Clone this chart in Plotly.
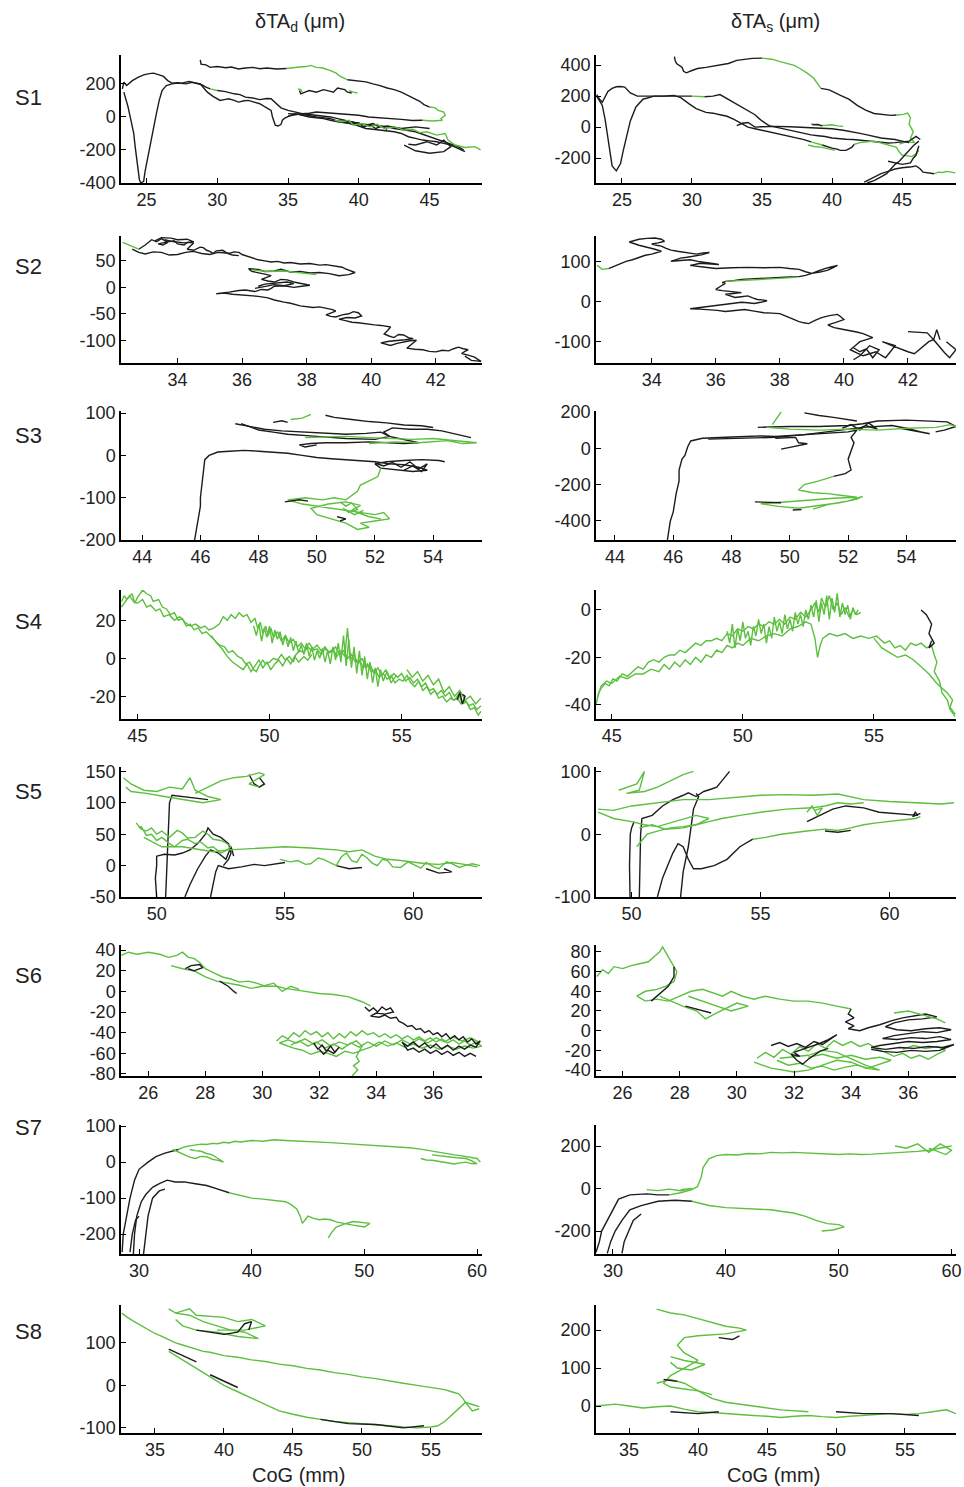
import plotly.graph_objects as go

BLACK = "#1c1c1c"
GREEN = "#5cbf3e"
COLORS = {"k": BLACK, "g": GREEN}

# ---------------- data: strokes per panel (color, [(CoG mm, dTA um), ...]) ----------------
S1_D = [
    ("k", [(28.8,345),(28.85,320),(29.2,315),(29.5,300),(30,305),(30.6,298),(31,302),(31.5,290),(32,296),(32.5,300),(33,292),(33.5,296),(34.2,290),(34.9,293)]),
    ("g", [(34.9,293),(35.5,296),(35.8,302),(36.3,305),(36.6,312),(37.0,300),(37.4,298),(38,280),(38.4,265),(38.6,250),(39.0,235),(39.2,225)]),
    ("k", [(39.2,225),(39.6,222),(40,220),(40.5,212),(41,200),(41.5,190),(42,175),(42.5,165),(43,150),(43.5,130),(44,110),(44.3,95),(44.6,75),(45,60)]),
    ("g", [(45,60),(45.4,55),(45.6,40),(46,30),(46.1,10),(45.8,-10),(45.9,-20),(45.2,-25),(44.5,-20)]),
    ("k", [(44.5,-20),(43.8,-22),(43,-15),(42.2,-10),(41.5,-5),(40.7,0),(40,10),(39.2,15),(38.5,20),(37.8,25),(37,30),(36.5,22),(36,20),(35.3,10),(35,5)]),
    ("k", [(23.3,170),(23.4,210),(23.6,190),(24,220),(24.4,240),(24.8,255),(25.2,262),(25.5,265),(25.9,255),(26.2,245),(26.5,220),(26.8,205),(27.2,208),(27.5,205),(28,215),(28.4,205),(28.9,195),(29.2,180),(29.5,170)]),
    ("g", [(29.5,170),(30.0,160)]),
    ("k", [(30,160),(30.5,155),(31.2,140),(31.6,135),(32,120),(32.5,115),(33,105),(33.5,112),(33.8,110),(34.2,80),(34.5,55),(35,40),(35.5,30),(36,20),(36.5,15),(37,10),(37.5,5),(38,0),(38.5,-10),(39,-20),(39.5,-28),(40,-40),(40.5,-45),(41,-50),(41.5,-55),(42,-60),(42.5,-70),(43,-75),(43.5,-82),(44,-90),(44.5,-105),(45,-120),(45.5,-135),(46,-150),(46.5,-165),(47,-180),(47.4,-200)]),
    ("k", [(23.4,150),(23.5,120),(23.6,100),(23.7,60),(23.8,20),(23.95,-40),(24.1,-100),(24.2,-180),(24.3,-250),(24.4,-320),(24.5,-380),(24.6,-400),(24.8,-390),(24.9,-330),(25.05,-260),(25.2,-200),(25.35,-130),(25.5,-60),(25.7,20),(25.9,100),(26.1,160),(26.4,190),(26.8,200),(27.2,205),(27.8,200),(28.2,210),(28.5,205),(28.8,200),(29.0,180),(29.3,150),(29.7,125),(30.2,100),(30.5,105),(30.8,110),(31.2,100),(31.5,90),(31.9,98),(32.2,100),(32.6,90),(33,80),(33.4,60),(33.8,40),(33.9,0),(34.1,-50),(34.3,-55),(34.5,-45),(34.6,-20),(34.8,-5),(35.2,10),(35.5,20),(36,10),(36.5,0),(37,-5),(37.5,-10),(38,-20),(38.5,-30),(39,-35),(39.5,-40),(40,-55),(40.5,-70),(41,-75),(41.5,-80),(42,-85),(42.5,-90),(43,-100),(43.5,-120),(44,-130),(44.5,-140),(45,-145),(45.5,-150),(46,-160),(46.5,-170),(47,-190),(47.5,-210)]),
    ("k", [(35.8,160),(35.9,140),(36.2,150),(36.5,160),(37,150),(37.5,165),(38,155),(38.2,150),(38.5,175),(39,165),(39.2,150),(39.5,145)]),
    ("g", [(35.7,170),(35.9,165),(36.0,150)]),
    ("g", [(39.3,160),(39.6,150),(39.9,145)]),
    ("k", [(35,20),(36,15),(37,0),(38,-10),(38.5,-25),(39.5,-30),(40.5,-50),(41,-40),(41.5,-60),(42,-55),(43,-70),(44,-60),(45,-70)]),
    ("k", [(39,-30),(39.5,-45),(40,-35),(40.3,-60),(40.8,-50),(41.2,-70),(41.6,-55),(42,-75)]),
    ("g", [(38.3,-20),(38.8,-30),(39.3,-20),(39.6,-50),(40.2,-40),(40.8,-60),(41.3,-45),(41.8,-70),(42.5,-60),(43.2,-80),(43.8,-75),(44.3,-95),(44.8,-90),(45.5,-110),(46.1,-100),(46.3,-140),(46.8,-170),(47.5,-185),(48.2,-180),(48.6,-200)]),
    ("k", [(43.5,-165),(44,-170),(44.8,-150),(45.5,-170),(46,-140),(46.5,-180),(46,-210),(45,-220),(44,-205),(43.2,-170)]),
]

S1_S = [
    ("k", [(28.75,455),(28.8,430),(28.9,410),(29.1,400),(29.3,385),(29.4,360),(29.6,350),(30.0,365),(30.4,378),(31,385),(31.5,392),(32,400),(32.6,410),(33.2,430),(33.8,438),(34.3,443),(35,445)]),
    ("g", [(35,445),(35.7,438),(36.3,422),(36.8,410),(37.3,398),(37.7,378),(38.2,350),(38.7,315),(39.2,250)]),
    ("k", [(39.2,250),(39.8,240),(40.6,205),(41.2,180),(41.8,140),(42.4,110),(43,88),(43.6,80),(44.2,76),(44.6,78)]),
    ("g", [(44.6,78),(45.1,82),(45.4,90),(45.6,60),(45.5,20),(45.8,-30),(45.6,-70),(45.9,-100),(45.3,-95),(44.8,-110)]),
    ("k", [(23.2,200),(23.4,170),(23.6,140),(23.8,50),(23.95,-50),(24.1,-150),(24.3,-250),(24.6,-282),(24.9,-235),(25.1,-150),(25.3,-80),(25.6,40),(26,130),(26.5,180),(27.3,200),(28,200),(28.7,205),(29.2,190),(29.8,150),(30.3,120),(31,95),(31.5,90),(32,80),(32.5,70),(33,50),(33.4,30),(33.7,20),(34,0),(34.5,-10),(35,-20),(35.5,-30),(36,-40),(36.5,-50),(37,-60),(37.5,-70),(38,-80),(38.5,-95)]),
    ("g", [(38.5,-95),(38.9,-105),(39.3,-115)]),
    ("k", [(39.3,-115),(39.6,-125),(40,-135),(40.3,-140),(40.6,-150),(41,-150),(41.4,-130),(41.6,-110)]),
    ("k", [(23.2,210),(23.4,180),(23.6,160),(23.8,200),(24,230),(24.3,250),(24.6,260),(24.9,262),(25.2,258),(25.6,220),(26.1,200),(27,200),(28,200),(29,200),(30,200)]),
    ("g", [(30,200),(30.5,198),(30.9,196)]),
    ("k", [(30.9,196),(31.5,200),(32,210),(32.2,200),(32.5,185),(32.8,170),(33.2,150),(33.6,130),(34,110),(34.3,90),(34.5,80),(34.8,55),(35,40),(35.5,10),(36,0),(36.5,-10),(37,-20),(37.5,-30),(38,-40),(38.5,-50),(39,-55),(39.5,-60),(40,-70),(40.5,-75),(41,-78),(41.5,-80),(42,-85),(42.5,-90),(43,-95),(43.5,-100),(44,-102),(44.5,-100),(45,-95),(45.5,-90),(46,-60),(46.3,-80)]),
    ("k", [(33.2,10),(33.6,25),(34,30),(34.3,10),(34.5,0),(35,3),(35.5,6),(36,5),(37,3),(38,0),(39,-5),(40,-10),(40.8,-20),(41.5,-30),(42,-40),(42.5,-50),(43,-60),(43.5,-70),(44,-75),(44.5,-80),(45,-90),(45.5,-100)]),
    ("g", [(38.5,20),(38.8,15),(39.2,10),(39.6,12),(40,15),(40.4,8),(40.8,5)]),
    ("k", [(38.6,15),(39,18),(39.3,8)]),
    ("g", [(38.3,-115),(38.7,-125),(39.3,-130),(39.8,-140),(40.2,-150)]),
    ("g", [(41.6,-110),(42,-100),(42.5,-95),(43,-90),(43.4,-100),(43.8,-110),(44.2,-120),(44.6,-130),(44.8,-160),(45,-180),(45.4,-185),(45.7,-190),(46,-170),(46.2,-150)]),
    ("k", [(42.3,-355),(42.6,-340),(42.8,-330),(43.2,-315),(43.5,-300),(44,-285),(44.5,-270),(45,-262),(45.3,-260),(45.7,-255),(46,-250),(46.3,-270),(46.5,-290),(46.9,-295),(47.3,-300)]),
    ("g", [(47.3,-300),(47.6,-290),(47.9,-292),(48.2,-285),(48.5,-290),(48.8,-295)]),
    ("k", [(42.5,-360),(43,-345),(43.5,-320),(43.9,-300),(44.2,-270),(44.5,-240),(44.8,-220),(45,-200),(45.4,-160),(45.8,-120),(46.2,-90)]),
    ("k", [(44,-220),(44.5,-230),(45,-240),(45.6,-230),(45.8,-200),(46,-180),(46.2,-120)]),
]

S2_D = [
    ("k", [(32.8,72),(33.0,80),(33.2,90),(33.35,86),(33.5,92),(33.6,88),(33.7,85),(33.55,80),(33.4,82),(33.7,86),(33.9,88),(34.0,82),(34.2,80),(34.3,85),(34.5,84),(34.4,78),(34.3,72),(34.5,70),(34.7,76),(34.8,75),(34.9,70),(35.0,68),(35.1,64),(35.2,69),(35.4,70),(35.5,66),(35.6,64),(35.75,67),(35.9,66),(36.0,62),(36.2,58),(36.35,55),(36.5,52),(36.7,50),(36.9,48),(37.1,49),(37.3,46),(37.5,47),(37.8,44),(38.1,45),(38.4,42),(38.6,43),(38.9,40),(39.1,38),(39.2,35),(39.35,32),(39.5,28),(39.3,24),(39.0,22),(38.7,26),(38.4,28),(38.1,27),(37.8,30),(37.5,29),(37.2,34),(37.0,31),(36.7,30),(36.5,34),(36.2,35),(36.3,30),(36.5,28),(36.7,25),(36.9,22),(36.75,18),(36.6,15),(36.8,12),(37.0,10),(37.2,15),(37.4,14),(37.6,10),(37.8,8),(37.95,6),(38.1,4),(37.85,2),(37.6,0),(37.3,3),(37.0,2),(36.9,-2),(36.8,-5),(36.6,-4),(36.4,-8),(36.1,-5),(35.9,-6),(35.6,-9),(35.4,-10),(35.2,-12),(35.45,-11),(35.7,-13),(35.95,-14),(36.2,-16),(36.5,-17),(36.8,-20),(37.0,-24),(37.3,-28),(37.5,-30),(37.8,-35),(38.0,-36),(38.2,-38),(38.4,-37),(38.6,-40),(38.8,-42),(38.9,-45),(38.7,-49),(38.6,-52),(38.75,-55),(38.9,-56),(39.1,-52),(39.3,-50),(39.45,-46),(39.6,-48),(39.7,-54),(39.5,-58),(39.25,-57),(39.0,-60),(39.2,-63),(39.4,-66),(39.6,-67),(39.9,-70),(40.1,-71),(40.3,-72),(40.45,-74),(40.6,-75),(40.5,-82),(40.4,-88),(40.55,-92),(40.7,-95),(40.85,-89),(41.0,-90),(41.15,-95),(41.3,-97),(41.05,-99),(40.8,-100),(40.55,-102),(40.3,-105),(40.45,-108),(40.6,-110),(40.8,-106),(41.0,-103),(41.2,-101),(41.4,-100),(41.25,-108),(41.1,-115),(41.35,-117),(41.6,-118),(41.8,-121),(42.0,-122),(42.2,-119),(42.4,-120),(42.55,-116),(42.7,-113),(42.85,-116),(43.0,-118),(42.9,-121),(42.8,-125),(43.0,-128),(43.2,-132),(43.3,-136),(43.4,-140),(43.25,-139),(43.1,-138),(42.9,-130)]),
    ("k", [(32.6,72),(32.8,66),(33.0,63),(33.25,67),(33.5,66),(33.75,61),(34,62),(34.25,66),(34.5,68),(34.75,64),(35,62),(35.25,66),(35.5,65),(35.7,61),(35.9,60)]),
    ("k", [(33.3,88),(33.5,94),(33.8,93),(34.0,90),(34.3,91),(34.5,86),(34.2,84),(33.9,86),(33.6,90)]),
    ("k", [(36.4,-2),(36.7,2),(37.0,5),(37.3,3),(37.6,7),(37.4,10),(37.0,8),(36.7,6),(36.5,2)]),
    ("g", [(32.3,85),(32.5,80),(32.8,72)]),
    ("g", [(36.3,33),(36.8,30),(37.3,31),(37.8,28),(38.3,24)]),
]

S2_S = [
    ("k", [(32.65,82),(32.9,90),(33.2,100),(33.4,104),(33.6,110),(33.8,115),(34.0,118),(34.2,122),(34.3,125),(34.1,130),(33.8,135),(33.6,140),(33.3,148),(33.45,152),(33.6,155),(33.85,157),(34.1,158),(34.3,155),(34.4,150),(34.2,146),(34.0,143),(34.15,140),(34.3,138),(34.45,132),(34.6,128),(34.8,125),(35.0,123),(35.2,120),(35.4,118),(35.6,121),(35.8,122),(35.55,116),(35.3,112),(35.1,110),(34.9,108),(34.75,104),(34.6,100),(34.9,102),(35.2,104),(35.45,100),(35.7,98),(35.9,95),(36.1,92),(35.8,93),(35.5,95),(35.35,92),(35.2,90),(35.6,86),(36,82),(36.5,84),(37,85),(37.5,84),(38,85),(38.3,82),(38.6,80),(38.8,74),(39.0,70),(39.2,76),(39.4,82),(39.6,86),(39.8,90),(39.65,84),(39.5,78),(39.25,73),(39.0,70),(38.8,65),(38.6,62),(38.3,61),(38.0,60),(37.7,59),(37.4,58),(37.1,56),(36.8,55),(36.55,52),(36.3,50),(36.2,47),(36.3,45),(36.15,38),(36.0,30),(36.2,27),(36.4,25),(36.6,24),(36.8,22),(36.55,20),(36.3,18),(36.45,14),(36.6,10),(36.8,12),(37,14),(37.15,9),(37.3,5),(37.45,4),(37.6,2),(37.4,-2),(37.2,-5),(37.0,-3),(36.8,-2),(36.5,-5),(36.2,-8),(35.9,-12),(35.6,-15),(35.4,-17),(35.2,-18),(35.5,-19),(35.8,-20),(36.05,-22),(36.3,-25),(36.6,-22),(36.9,-20),(37.2,-24),(37.5,-28),(37.75,-29),(38,-30),(38.15,-35),(38.3,-40),(38.45,-46),(38.6,-50),(38.75,-53),(38.9,-55),(39.1,-47),(39.3,-40),(39.55,-35),(39.8,-32),(39.9,-38),(40.0,-45),(39.75,-52),(39.5,-58),(39.6,-62),(39.7,-65),(39.95,-69),(40.2,-72),(40.4,-76),(40.6,-80),(40.75,-85),(40.9,-90),(40.7,-95),(40.5,-100),(40.35,-110),(40.2,-120),(40.4,-128),(40.6,-135),(40.8,-130),(41.0,-125),(41.15,-133),(41.3,-140),(41.45,-125),(41.6,-110),(41.4,-105),(41.2,-100),(41.5,-110),(41.8,-120),(42.0,-125),(42.2,-130),(42.35,-120),(42.5,-110),(42.65,-100),(42.8,-95),(42.9,-105),(43.0,-115),(43.15,-128),(43.3,-140),(43.4,-130),(43.5,-120),(43.35,-110),(43.2,-100)]),
    ("k", [(42.0,-75),(42.3,-76),(42.6,-78),(42.8,-95),(42.9,-70),(43.0,-95)]),
    ("k", [(40.3,-115),(40.5,-125),(40.7,-118),(40.9,-140),(41.1,-120),(40.8,-110),(40.5,-135),(40.3,-145)]),
    ("g", [(32.3,90),(32.45,80),(32.65,82)]),
    ("g", [(36.3,50),(36.8,52),(37.3,54),(37.8,56),(38.5,60)]),
]

S3_D = [
    ("k", [(45.8,-200),(45.85,-180),(45.9,-150),(46.0,-120),(46.0,-100),(46.05,-70),(46.1,-40),(46.15,-10),(46.3,0),(46.6,8),(47.0,10),(47.5,12),(48,10),(48.5,8),(49,5),(49.5,0),(50,-5),(50.5,-8),(51,-10),(51.5,-12),(52,-15),(52.5,-20),(53,-22),(53.5,-28),(53.8,-35),(53.3,-38),(52.8,-35),(52.2,-30),(52.0,-20),(52.4,-15),(53,-12),(53.6,-10),(54.2,-12),(54.4,-15)]),
    ("k", [(52.0,-18),(52.3,-25),(52.6,-17),(52.9,-28),(53.2,-15),(53.5,-32),(53.8,-20),(53.6,-38),(53.3,-25),(53.0,-35)]),
    ("k", [(47.2,75),(47.6,70),(48.2,62),(48.8,58),(49.5,55),(50.2,52),(51,50),(51.7,52),(52.2,55),(52.5,45),(52.8,40),(53.2,35),(53.5,30),(53.0,28),(52.4,30),(51.8,32),(51.0,30),(50.3,30),(49.8,28),(49.4,25),(49.6,20),(50.0,25)]),
    ("k", [(47.4,75),(48.0,60),(48.5,55),(49,50),(50,45),(51,40),(52,38),(52.5,45),(52.3,55),(52.6,65),(53.2,62),(53.8,62),(54.3,58),(54.8,50),(55.2,45),(55.3,42)]),
    ("k", [(50.3,95),(50.6,90),(51.2,85),(51.8,80),(52.4,77),(53.0,72),(53.6,70),(54.0,66)]),
    ("k", [(48.5,78),(48.8,82),(49.0,78)]),
    ("g", [(49.1,85),(49.5,88),(49.8,97)]),
    ("g", [(49.6,42),(50.5,45),(51.0,45),(51.8,42),(52.5,40),(53.3,38),(54.0,40),(54.8,35),(55.5,30),(55.0,28),(54.5,35),(53.5,30),(52.7,32),(51.8,28)]),
    ("g", [(52.2,-30),(52.1,-50),(51.8,-60),(51.5,-70),(51.4,-85),(51.2,-95),(51.0,-105),(50.6,-100),(50.2,-105),(49.6,-100),(49.0,-105),(49.5,-115),(50,-120),(50.5,-125),(51.0,-130),(51.5,-135),(52.0,-140),(52.3,-135),(52.5,-150),(52.0,-155),(51.5,-160),(51.8,-170),(51.4,-175),(51.0,-160),(50.5,-150),(50.0,-140),(49.8,-125),(50.4,-115),(51.0,-110),(51.5,-118),(51.2,-130),(51.8,-145),(52.2,-150)]),
    ("g", [(50.8,-110),(51.0,-120),(51.2,-112),(51.4,-128),(51.1,-135),(50.9,-125),(51.3,-140),(51.6,-130)]),
    ("k", [(48.9,-110),(49.4,-105),(49.7,-108)]),
    ("k", [(50.7,-145),(51.0,-150),(50.8,-155)]),
]

S3_S = [
    ("k", [(45.8,-505),(45.85,-450),(45.9,-400),(46.0,-350),(46.05,-300),(46.1,-250),(46.2,-180),(46.2,-120),(46.3,-60),(46.4,-40),(46.5,10),(46.6,40),(47,55),(47.5,60),(48,62),(48.5,65),(49,68),(49.5,65),(50,70),(50.5,75),(51,80),(51.5,85),(52,90),(52.3,100),(52.1,60),(52.2,30),(52.1,-20),(52.0,-60),(52.1,-120),(51.9,-140),(51.5,-155)]),
    ("g", [(51.5,-155),(51,-180),(50.5,-200),(50.3,-230),(50.8,-245),(51.3,-250),(51.8,-260),(52.3,-270),(51.5,-275),(50.8,-285),(50.2,-290),(49.5,-300),(49.0,-305),(49.6,-320),(50.3,-330),(51,-315),(51.7,-300),(52.3,-280),(52.5,-265),(52,-290),(51.3,-310),(50.8,-335)]),
    ("k", [(48.8,-295),(49.3,-300),(49.7,-300)]),
    ("k", [(50.1,-340),(50.4,-338)]),
    ("k", [(47.2,50),(48.5,55),(49.5,60),(50.5,75),(51.5,95),(52.5,115),(53.5,125),(54,110),(54.5,90),(54.8,80),(54.3,95),(53.8,110)]),
    ("k", [(48.9,115),(49.3,118),(50,120),(51,120),(52,125),(52.5,135),(53,150),(54,155),(55,150),(55.4,145),(55.7,120),(55.3,100),(55,90)]),
    ("k", [(50.5,195),(51,180),(51.5,170),(52.0,155),(52.3,150)]),
    ("k", [(49.5,55),(50.2,60),(50.3,30),(50.6,25),(50,5),(49.7,-5)]),
    ("k", [(51.8,110),(52.1,130),(52.4,100),(52.7,140),(53.0,105),(52.6,125),(52.2,95)]),
    ("g", [(49.4,130),(49.6,180),(49.7,200)]),
    ("g", [(49.2,115),(50,105),(51,100),(52,105),(53,100),(54,110),(55,115),(55.5,130),(55.8,115)]),
]

S4_D = [
    ("g", [(44.4,30),(44.5,33),(44.6,31),(44.8,34),(44.9,29),(45.0,32),(45.2,36),(45.35,34),(45.5,33),(45.6,30),(45.8,31),(45.95,27),(46.1,26),(46.25,23),(46.4,24),(46.55,20),(46.7,21),(46.85,17),(47.0,18),(47.15,15),(47.3,16),(47.45,13),(47.6,14),(47.8,11),(47.95,9),(48.1,7),(48.3,6),(48.45,3),(48.6,4),(48.8,1),(48.95,0),(49.1,-3),(49.25,-2),(49.4,-6),(49.5,-7),(49.6,-4),(49.75,-1),(49.85,-3),(50.0,-2),(50.15,0),(50.3,-1),(50.45,2),(50.6,-1),(50.75,1),(50.9,-2),(51.0,2),(51.15,4),(51.3,3),(51.45,6),(51.6,4),(51.8,5),(51.95,2),(52.1,5),(52.3,3),(52.5,6),(52.65,2),(52.8,4),(52.95,0),(53.1,2),(53.25,-2),(53.4,-1),(53.55,-5),(53.7,-3),(53.85,-7),(54.0,-6),(54.15,-10),(54.3,-8),(54.45,-11),(54.6,-9),(54.75,-13),(54.9,-11),(55.05,-12),(55.2,-9),(55.35,-13),(55.5,-15),(55.65,-12),(55.8,-17),(55.95,-15),(56.1,-19),(56.25,-17),(56.4,-21),(56.55,-20),(56.7,-23),(56.85,-21),(57.0,-22),(57.15,-19),(57.3,-24),(57.45,-23),(57.6,-27),(57.75,-26),(57.9,-30),(58.0,-28)]),
    ("g", [(44.4,27),(44.55,30),(44.7,33),(44.85,30),(45.0,29),(45.2,31),(45.35,27),(45.5,28),(45.7,25),(45.85,26),(46.0,22),(46.2,23),(46.4,20),(46.6,22),(46.8,19),(47.0,17),(47.2,18),(47.4,16),(47.55,17),(47.7,15),(47.9,16),(48.1,18),(48.25,22),(48.4,20),(48.55,23),(48.7,21),(48.85,24),(49.0,22),(49.15,23),(49.3,19),(49.45,21),(49.55,16),(49.65,19),(49.75,13),(49.85,17),(49.95,12),(50.05,16),(50.15,11),(50.3,14),(50.45,9),(50.6,12),(50.75,8),(50.9,10),(51.05,6),(51.2,8),(51.35,5),(51.5,8),(51.65,5),(51.8,7),(51.95,4),(52.1,6),(52.25,3),(52.4,5),(52.55,1),(52.7,4),(52.85,1),(52.95,16),(53.05,-1),(53.2,2),(53.35,-3),(53.5,0),(53.65,-5),(53.8,-3),(53.95,-8),(54.1,-5),(54.25,-9),(54.4,-6),(54.55,-11),(54.7,-8),(54.85,-10),(55.0,-8),(55.15,-12),(55.3,-10),(55.45,-13),(55.6,-11),(55.75,-15),(55.9,-13),(56.05,-17),(56.2,-16),(56.35,-19),(56.5,-17),(56.65,-20),(56.8,-18),(56.95,-22),(57.1,-21),(57.25,-24),(57.4,-22),(57.55,-25),(57.7,-24),(57.85,-27),(58.0,-25)]),
    ("g", [(49.4,17),(49.5,12),(49.6,18),(49.7,9),(49.8,16),(49.9,11),(50.0,17),(50.1,8),(50.2,15),(50.3,10),(50.4,14),(50.5,7),(50.6,12),(50.7,6),(50.8,11),(50.9,4),(51.0,9),(51.1,3),(51.2,7),(51.3,2),(51.4,8),(51.5,1),(51.6,6),(51.7,-1),(51.8,4),(51.9,0),(52.0,5),(52.1,-2),(52.2,4),(52.3,-3),(52.4,6),(52.5,-1),(52.6,8),(52.7,-2),(52.8,12),(52.9,-4),(53.0,10),(53.1,-5),(53.2,6),(53.3,-8),(53.4,4),(53.5,-9),(53.6,1),(53.7,-11),(53.8,-2),(53.9,-13),(54.0,-5),(54.1,-15),(54.2,-6),(54.3,-12),(54.45,-7),(54.6,-13),(54.8,-9)]),
    ("g", [(47.8,12),(48.0,8),(48.2,5),(48.4,1),(48.6,-2),(48.8,-4),(49.0,-6),(49.15,-3),(49.3,-7),(49.45,-4),(49.6,-1),(49.75,-5),(49.9,-2),(50.05,-6),(50.2,-3),(50.35,-1),(50.5,-4),(50.65,0),(50.8,-3),(50.95,1),(51.1,-2),(51.3,1),(51.45,-1),(51.6,2)]),
    ("g", [(55.2,-6),(55.4,-10),(55.6,-7),(55.8,-12),(56.0,-9),(56.2,-14),(56.4,-11),(56.6,-18),(56.8,-15),(57.0,-20),(57.2,-17),(57.4,-22),(57.6,-20),(57.8,-24),(58.0,-21)]),
    ("k", [(57.1,-22),(57.2,-18),(57.3,-24),(57.4,-20),(57.3,-19)]),
]

S4_S = [
    ("g", [(44.4,-40),(44.5,-35),(44.6,-33),(44.75,-31),(44.9,-32),(45.05,-29),(45.2,-30),(45.4,-27),(45.6,-28),(45.8,-26),(46.0,-24),(46.2,-25),(46.4,-22),(46.6,-21),(46.8,-22),(47.0,-20),(47.2,-19),(47.4,-19),(47.6,-17),(47.8,-18),(48.0,-16),(48.2,-14),(48.4,-15),(48.6,-13),(48.8,-13),(49.0,-12),(49.2,-13),(49.4,-10),(49.6,-11),(49.8,-8),(50.0,-9),(50.2,-7),(50.4,-8),(50.6,-6),(50.8,-7),(51.0,-5),(51.2,-6),(51.4,-4),(51.6,-6),(51.8,-3),(52.0,-4),(52.2,-1),(52.4,-3),(52.6,0),(52.75,3),(52.9,-1),(53.0,5),(53.15,1),(53.3,6),(53.45,0),(53.6,3),(53.75,-2),(53.9,1),(54.05,-3),(54.2,0),(54.35,-2),(54.5,-1)]),
    ("g", [(44.45,-37),(44.6,-32),(44.8,-30),(45.0,-31),(45.3,-28),(45.6,-29),(45.9,-27),(46.2,-27),(46.5,-25),(46.8,-26),(47.0,-23),(47.2,-25),(47.4,-22),(47.6,-24),(47.8,-21),(48.0,-23),(48.2,-20),(48.4,-22),(48.6,-19),(48.8,-20),(49.0,-17),(49.2,-18),(49.4,-15),(49.6,-16),(49.8,-14),(50.0,-15),(50.3,-12),(50.6,-13),(50.9,-11),(51.2,-10),(51.5,-11),(51.8,-8),(52.1,-7),(52.4,-5),(52.6,-6),(52.75,-12),(52.85,-20),(52.95,-15),(53.05,-12),(53.3,-10),(53.6,-11),(53.9,-10),(54.2,-12),(54.5,-11),(54.8,-12),(55.1,-11),(55.4,-14),(55.6,-13),(55.8,-16),(56.0,-15),(56.2,-17),(56.4,-14),(56.6,-15),(56.8,-14),(57.0,-16),(57.2,-15),(57.3,-19),(57.4,-22),(57.3,-26),(57.5,-30),(57.6,-35),(57.8,-38),(57.9,-42),(58.1,-45)]),
    ("g", [(49.4,-9),(49.5,-14),(49.6,-6),(49.7,-16),(49.8,-8),(49.9,-13),(50.0,-5),(50.1,-12),(50.2,-9),(50.3,-15),(50.4,-7),(50.5,-11),(50.6,-4),(50.7,-10),(50.8,-6),(50.9,-14),(51.0,-7),(51.1,-12),(51.2,-3),(51.3,-9),(51.4,-5),(51.5,-10),(51.6,-2),(51.7,-8),(51.8,-4),(51.9,-9),(52.0,-1),(52.1,-6),(52.2,-2),(52.3,-7),(52.4,0),(52.5,-4),(52.6,2),(52.7,-3),(52.8,4),(52.9,-5),(53.0,3),(53.1,-2),(53.2,6),(53.3,-4),(53.4,5),(53.5,-1),(53.6,7),(53.7,-3),(53.8,3),(53.9,-2),(54.0,2),(54.1,-4),(54.2,1),(54.3,-2),(54.4,0)]),
    ("g", [(55.0,-12),(55.3,-16),(55.6,-18),(55.9,-20),(56.2,-19),(56.5,-21),(56.8,-24),(57.1,-27),(57.4,-31),(57.6,-33),(57.8,-35),(58.0,-38),(57.9,-41),(58.1,-44)]),
    ("k", [(56.8,0),(57,-2),(57.2,-6),(57.1,-10),(57.3,-14),(57.1,-16),(57.2,-13)]),
]

S5_D = [
    ("k", [(50.0,-50),(49.95,-20),(50.0,0),(50.0,15),(50.3,18),(50.7,17),(51.0,20),(51.3,25),(51.6,35),(51.9,50),(52.0,60),(52.2,50),(52.5,45),(52.8,35),(52.9,20),(52.8,10),(52.6,0)]),
    ("k", [(50.35,-50),(50.4,0),(50.45,50),(50.5,100),(50.6,112),(51.0,110),(51.5,108),(52,105)]),
    ("k", [(51.1,-50),(51.3,-30),(51.6,-5),(51.9,15),(52.1,25),(52.4,20),(52.7,10),(52.9,30),(53,15)]),
    ("k", [(52.1,-50),(52.2,-30),(52.3,-10),(52.4,0),(52.8,-5),(53.3,-2),(53.8,2),(54.2,0),(54.6,3),(55,5)]),
    ("k", [(53.6,145),(53.8,130),(54.0,125),(54.2,130),(54.0,140)]),
    ("k", [(57,0),(57.5,-5),(58,-3)]),
    ("k", [(60.5,-5),(61,-12),(61.5,-10),(61.2,-5)]),
    ("g", [(48.7,140),(49.0,130),(49.5,120),(50,118),(50.5,125),(51,122),(51.3,140),(51.5,120),(52,110),(52.5,105),(51.8,100),(51,105),(50.3,110),(49.6,115),(49,118),(48.8,125)]),
    ("g", [(51.5,115),(52,125),(52.5,135),(53,140),(53.5,142),(54,148),(54.2,145),(53.6,130),(54.0,125)]),
    ("g", [(49.2,68),(49.4,58),(49.6,55),(49.8,60),(50,50),(50.2,55),(50.5,45),(50.8,56),(51,52),(51.2,44),(51.5,45),(51.8,55),(52,50),(52.2,42),(52.5,40),(52.7,36),(52.9,30),(52.7,24),(52.5,20),(52.2,30),(52,28),(51.7,38),(51.5,35),(51.2,42),(51,40),(50.7,30),(50.5,35),(50.2,45),(50,40),(49.8,50),(49.6,48),(49.4,62),(49.3,60)]),
    ("g", [(49.5,45),(50.2,30),(51,30),(51.7,25),(52.2,22),(52.8,25)]),
    ("g", [(52.8,25),(54,28),(55,30),(56,28),(57,25),(57.5,22),(58,25),(58.5,15),(59,10),(59.5,8),(60,5),(60.5,3),(61,2),(61.5,5),(62,2),(62.5,-2)]),
    ("g", [(54.8,10),(55.2,6),(55.5,8),(55.8,2),(56,3),(56.3,12),(56.5,10),(56.8,4),(57,0),(57.2,14),(57.4,20),(57.6,8),(57.8,5),(58.0,18),(58.2,12),(58.4,4),(58.6,0),(58.8,10),(59,8),(59.2,-2),(59.5,-3),(59.8,6),(60,2),(60.3,-4),(60.5,5),(60.8,-2),(61,-5),(61.3,6),(61.5,3),(61.8,-3),(62,0),(62.3,3),(62.6,0)]),
]

S5_S = [
    ("k", [(49.94,-100),(49.92,-50),(49.95,0),(50.0,10),(50.1,20)]),
    ("k", [(50.3,-100),(50.32,-50),(50.35,0),(50.4,25),(50.8,30),(51.2,45),(51.6,55),(52,62),(52.2,66),(52.5,60),(52.8,68),(53.1,72),(53.3,75),(53.5,85),(53.8,100)]),
    ("k", [(51.0,-100),(51.2,-70),(51.4,-50),(51.6,-30),(51.8,-15),(52.0,-20),(52.2,-40),(52.4,-55),(52.7,-55),(53.2,-50),(53.7,-40),(54.2,-20),(54.7,-8)]),
    ("k", [(51.9,-100),(52.0,-60),(52.2,-20),(52.3,10),(52.4,40),(52.6,60),(52.5,65)]),
    ("k", [(56.8,20),(57.3,30),(57.8,40),(58.3,45),(59,42),(59.6,35),(60.2,33),(60.8,32),(61.1,30),(61.0,35),(60.9,28),(61.2,33)]),
    ("k", [(57.5,5),(58,3),(58.5,6)]),
    ("g", [(48.7,40),(49.3,38),(50,45),(51,50),(52,55),(53,55),(54,58),(55,62),(56,63),(57,62),(58,64),(58.5,60),(59,55),(60,52),(61,50),(62,48),(62.5,50)]),
    ("g", [(48.7,35),(49.3,25),(50,20),(50.5,15),(51,12),(51.5,18),(52,25),(52.5,30),(53,25),(52.5,15),(52,10),(51.3,8),(50.8,15),(50.3,10)]),
    ("g", [(49.5,70),(50.2,80),(50.5,100),(50.3,70),(49.8,65),(50.5,68),(51,75),(51.5,85),(52,95),(52.4,100)]),
    ("g", [(50.2,-20),(50.4,-10),(50.6,0),(51,5),(51.5,10),(52,12),(52.5,15),(53,20),(53.5,25),(54.2,30),(55,35),(56,40),(57,42),(57.5,45),(58,50),(58.5,48),(59,50)]),
    ("g", [(54.7,-8),(55.2,-5),(55.8,0),(56.3,3),(56.8,5),(57.5,8),(58,6),(58.5,10),(59,15),(59.5,18),(60,20),(60.5,22),(61,25),(61.2,28)]),
    ("g", [(56.8,35),(57,45),(57.2,30),(57.4,42),(57.1,38)]),
]

S6_D = [
    ("g", [(25.05,35),(25.3,38),(25.6,36),(26,38),(26.4,36),(26.7,33),(27,35),(27.2,38),(27.4,33),(27.6,32),(27.8,28),(28,22),(28.3,18),(28.6,14),(28.9,12),(29.2,9),(29.5,10),(29.8,8),(30.1,5),(30.5,5),(30.8,3),(31.2,1),(31.5,0),(32,-2),(32.5,-3),(33,-5),(33.5,-10),(33.8,-14)]),
    ("g", [(26.8,25),(27.2,22),(27.6,20),(28,14),(28.4,10),(28.8,8),(29.2,6),(29.6,3),(30,5),(30.4,8),(30.7,0),(31,5),(31.3,2)]),
    ("k", [(27.3,22),(27.5,25),(27.8,26),(27.9,23),(27.6,20),(27.4,22)]),
    ("k", [(28.5,10),(28.8,5),(29,0),(29.1,-2)]),
    ("g", [(30.5,-48),(30.7,-43),(30.9,-46),(31.1,-40),(31.3,-44),(31.5,-38),(31.7,-42),(31.9,-39),(32.1,-44),(32.3,-40),(32.5,-46),(32.7,-41),(32.9,-45),(33.1,-39),(33.3,-43),(33.5,-38),(33.7,-42),(33.9,-40),(34.1,-44),(34.3,-41),(34.5,-45),(34.7,-42),(34.9,-46),(35.1,-43),(35.3,-47),(35.5,-44),(35.7,-48),(35.9,-45),(36.1,-49),(36.3,-46),(36.5,-50),(36.7,-47),(36.9,-51),(37.1,-48),(37.3,-52),(37.5,-49),(37.7,-53),(37.4,-55),(37.1,-53),(36.8,-56),(36.5,-53),(36.2,-56),(35.9,-52),(35.6,-55),(35.3,-51),(35.0,-54),(34.7,-50),(34.4,-53),(34.1,-49),(33.8,-54),(33.5,-57),(33.2,-60),(32.9,-58),(32.6,-63),(32.3,-60),(32.0,-58),(31.7,-61),(31.4,-57),(31.1,-55),(30.8,-52),(30.6,-50),(30.9,-47),(31.2,-50),(31.5,-46),(31.8,-51),(32.1,-47),(32.4,-53),(32.7,-49),(33.0,-52),(33.3,-48),(33.5,-53),(33.4,-58),(33.3,-63),(33.4,-68),(33.2,-72),(33.35,-76),(33.15,-82)]),
    ("g", [(31.0,-52),(31.3,-48),(31.6,-53),(31.9,-49),(32.2,-55),(32.5,-51),(32.8,-56),(33.1,-50),(33.4,-54),(33.7,-49),(34.0,-53),(34.3,-48),(34.6,-52),(34.9,-47),(35.2,-51),(35.5,-46),(35.8,-50),(36.1,-45),(36.4,-49),(36.7,-44),(37.0,-48),(37.3,-45),(37.6,-49)]),
    ("k", [(33.6,-15),(33.75,-19),(33.9,-16),(34.05,-20),(34.2,-15),(34.35,-18),(34.5,-16),(34.6,-20),(34.3,-22),(34.0,-21),(33.8,-24),(34.1,-25),(34.3,-23),(34.5,-26),(34.7,-25),(34.8,-29),(34.95,-31),(35.1,-34),(35.25,-33),(35.4,-37),(35.55,-36),(35.7,-40),(35.85,-38),(36.0,-42),(36.15,-40),(36.3,-44),(36.45,-41),(36.6,-46),(36.75,-43),(36.9,-47),(37.05,-44),(37.2,-49),(37.35,-46),(37.5,-51),(37.65,-48),(37.5,-54),(37.3,-52),(37.1,-56),(36.9,-53),(36.7,-57),(36.5,-52),(36.3,-56),(36.1,-51),(35.9,-55),(35.7,-50),(35.5,-54),(35.3,-49),(35.1,-53),(34.9,-49),(35.1,-57),(35.3,-55),(35.5,-59),(35.7,-56),(35.9,-60),(36.1,-57),(36.3,-61),(36.5,-58),(36.7,-62),(36.9,-59),(37.1,-63),(37.3,-60),(37.5,-63)]),
    ("k", [(31.8,-50),(31.95,-56),(32.1,-52),(32.25,-58),(32.4,-53),(32.55,-59),(32.7,-54),(32.5,-60),(32.3,-57),(32.15,-61),(32.0,-56)]),
]

S6_S = [
    ("g", [(25.1,55),(25.3,62),(25.5,58),(25.7,65),(26,63),(26.3,66),(26.6,68),(26.9,70),(27.1,75),(27.3,80),(27.4,85),(27.5,80),(27.7,70),(27.9,60),(27.8,50),(27.5,45),(27.2,42),(26.8,40),(26.5,35),(26.8,30),(27.2,32),(27.6,30),(28,35),(28.4,40),(28.8,42),(29.2,38),(29.5,35),(29.8,40),(30.2,35),(30.6,32),(31,35),(31.5,32),(32,30),(32.5,30),(33,28),(33.5,25),(34,22)]),
    ("g", [(27.3,35),(27.7,30),(28.1,25),(28.6,20),(28.9,12),(29.3,18),(29.6,22),(30,28),(30.4,25),(29.8,20),(29.3,25),(28.8,30),(28.3,35)]),
    ("k", [(27.8,65),(27.8,55),(27.6,45),(27.4,40),(27.2,35),(27.0,30)]),
    ("k", [(28.2,25),(28.6,22),(28.9,20),(29.1,18)]),
    ("g", [(30.7,-28),(31.0,-22),(31.3,-27),(31.6,-19),(31.9,-24),(32.2,-16),(32.5,-21),(32.8,-13),(33.1,-18),(33.4,-10),(33.7,-15),(34.0,-11),(34.3,-16),(34.6,-13),(34.9,-19),(35.2,-22),(35.5,-26),(35.8,-23),(36.1,-28),(36.4,-25),(36.7,-29),(37.0,-24),(37.3,-20),(37.0,-16),(36.6,-18),(36.2,-15),(35.8,-19)]),
    ("g", [(30.6,-32),(31.2,-38),(32,-42),(32.5,-40),(33,-35),(33.5,-30),(34,-32),(34.5,-38),(35,-40),(34.5,-35),(33.5,-22),(33,-20),(32.5,-25),(31.5,-28)]),
    ("g", [(31.4,-30),(31.8,-35),(32.2,-33),(32.6,-38),(33.0,-36),(33.4,-40),(33.8,-37),(34.2,-35),(34.6,-38),(35.0,-34),(35.4,-30),(35.0,-27),(34.5,-29),(34.0,-25),(33.5,-28),(33.0,-24),(32.5,-27)]),
    ("k", [(34.0,22),(33.9,17),(34.1,13),(33.8,9),(34.1,5),(33.9,2),(34.3,0),(34.6,3),(35.0,6),(35.4,10),(35.8,13),(36.2,15),(36.6,17),(37.0,14),(36.5,12),(36.0,11),(35.5,8),(35.2,4),(35.6,1),(36.1,0),(36.6,2),(37.1,3),(37.5,1),(37.0,-2),(36.5,-1),(36.0,-3),(35.5,-5),(35.1,-8),(35.6,-9),(36.1,-7),(36.6,-8),(37.1,-6),(37.5,-9),(37.0,-11),(36.5,-12),(36.0,-11),(35.5,-13),(35.0,-15),(34.7,-17),(35.2,-19),(35.7,-17),(36.2,-18),(36.7,-16),(37.2,-17),(37.6,-14),(37.1,-20),(36.6,-21),(36.1,-20),(35.6,-22),(35.1,-21),(34.7,-19)]),
    ("k", [(31.2,-15),(31.5,-12),(31.8,-16),(32.1,-13),(32.4,-17),(32.7,-11),(33.0,-14),(33.3,-8),(33.5,-4),(33.2,-9),(32.9,-13),(32.6,-16),(32.3,-19),(32.0,-22),(32.2,-26),(31.9,-24),(32.1,-30),(32.3,-34),(32.5,-29),(32.7,-25),(32.9,-21),(33.2,-18)]),
    ("g", [(35.5,18),(36,20),(36.5,16),(37,12),(37.3,8)]),
]

S7_D = [
    ("k", [(28.5,-250),(28.6,-200),(28.9,-150),(29.2,-100),(29.6,-50),(30,-20),(30.8,0),(31.5,15),(32.3,25),(33,30),(33.5,35)]),
    ("k", [(29.5,-255),(29.6,-200),(29.8,-150),(30.2,-110),(30.6,-90),(31.2,-70),(31.8,-60),(32.5,-50),(33.2,-55),(34,-55),(35,-60),(36,-65),(37,-75),(38,-85)]),
    ("k", [(30.4,-255),(30.6,-200),(30.8,-150),(31.2,-100),(31.8,-80),(32.3,-75)]),
    ("k", [(29.2,-250),(29.4,-200),(29.7,-160),(30,-150)]),
    ("g", [(33.5,35),(34.0,42),(34.5,45),(35.0,48),(35.5,50),(36.0,49),(36.5,52),(37.0,51),(37.5,55),(38.0,53),(38.5,58),(39.0,56),(39.5,59),(40,60),(41,58),(42,62),(43,60),(44,58),(45,57),(46,55),(47,54),(48,52),(49,50),(50,48),(51,46),(52,45),(53,43),(54,40),(55,36),(56,30),(57,26),(58,20),(58.5,18),(59,15),(59.5,12),(60,10),(60.3,0)]),
    ("g", [(33,35),(33.5,28),(34,20),(34.5,14),(35,10),(35.5,16),(36,15),(36.5,8),(37,5),(37.5,0),(37.0,10),(36.5,20),(36.0,24),(35.5,30),(35.0,32),(34.5,35)]),
    ("g", [(55,10),(55.5,6),(56,5),(56.5,2),(57,0),(57.5,-3),(58,-5),(58.5,-2),(59,0),(59.5,-4),(60,-5),(59.5,4),(59,10),(58.2,12),(57.5,15),(56.8,16),(56,20)]),
    ("g", [(38,-85),(39,-92),(40,-100),(40.8,-102),(41.5,-105),(42.2,-106),(43,-110),(43.5,-118),(44,-130),(44.3,-150),(44.5,-170),(44.8,-158),(45,-150),(45.5,-156),(46,-160),(46.5,-158),(47,-160),(47.5,-166),(48,-170),(48.5,-172),(49,-175),(49.5,-177),(50,-180),(50.5,-170),(49.8,-168),(49,-165),(48.2,-172),(47.5,-180),(47.1,-195),(46.8,-210)]),
]

S7_S = [
    ("k", [(28.5,-300),(28.8,-250),(29,-200),(29.5,-150),(30,-100),(30.5,-50),(31.5,-30),(33,-25),(34,-30),(35,-30)]),
    ("k", [(29.5,-305),(29.8,-250),(30.2,-200),(30.8,-150),(31.5,-100),(32.5,-80),(34,-60),(35.5,-55),(37,-60)]),
    ("k", [(30.8,-305),(31.0,-250),(31.4,-200),(31.8,-150),(32.5,-120)]),
    ("g", [(35,-30),(36,-20),(37,-5),(37.5,10),(37.8,50),(38,100),(38.5,140),(39.2,155),(40,160),(41,158),(42,165),(43,163),(44,170),(45,168),(46,170),(47,167),(48,165),(49,162),(50,160),(51,163),(52,160),(53,162),(54,165),(55,167),(56,170),(57,175),(58,180),(59,190),(60,200)]),
    ("g", [(33,-5),(34,-10),(35,-3),(36,-10),(37,0),(36,-5)]),
    ("g", [(37,-60),(38.5,-80),(40,-90),(41,-92),(42,-95),(43,-97),(44,-100),(45,-108),(46,-115),(47,-130),(48,-150),(49,-165),(50,-170),(50.5,-180),(49.5,-195),(48.5,-200)]),
    ("g", [(55,200),(56,190),(57,210),(58,170),(59,210),(60,180),(59.5,160),(58,190)]),
]

S8_D = [
    ("g", [(32.6,170),(33,160),(33.5,150),(34,140),(34.5,130),(35,122),(35.5,115),(36,108),(36.5,100),(37,95),(37.5,90),(38,85),(38.5,80),(39,78),(39.5,74),(40,70),(41,66),(42,60),(43,56),(44,50),(45,46),(46,40),(47,36),(48,30),(49,26),(50,20),(51,16),(52,10),(53,5),(54,0),(55,-5),(56,-10),(56.5,-15),(57,-20),(57.3,-30),(57.5,-40),(58,-45),(58.5,-50)]),
    ("g", [(36.5,170),(37.5,165),(38.5,150),(39.5,140),(40.5,130),(41.5,125),(42.5,110),(41,115),(39.5,125),(38,130),(37,140),(36.5,155)]),
    ("g", [(36,180),(36.5,170),(37.5,180),(38,165),(40,160),(41,150),(42,155),(43,140),(41.5,130),(39.5,130)]),
    ("g", [(36,80),(37,60),(38,40),(39,20),(40,0),(41,-15),(42,-30),(43,-45),(44,-60),(45,-68),(46,-75),(47,-80),(48,-85),(49,-88),(50,-90),(51,-92),(52,-95),(53,-98),(54,-100),(55,-98),(55.5,-95),(56,-85),(56.5,-70),(57,-55),(57.5,-40),(58,-60),(58.5,-55)]),
    ("k", [(38,130),(39,125),(40,120),(41,125),(41.5,145),(42,150),(41.8,130)]),
    ("k", [(36,85),(37,70),(38,55)]),
    ("k", [(39,25),(40,10),(41,-5)]),
    ("k", [(47,-80),(49,-90),(51,-92),(53,-100),(54.5,-95)]),
]

S8_S = [
    ("g", [(32.6,0),(34,5),(35,0),(36,-5),(37,-2),(38,0),(39,-8),(40,-15),(41,-17),(42,-20),(43,-22),(44,-25),(45,-27),(46,-30),(47,-27),(48,-25),(49,-28),(50,-30),(51,-27),(52,-25),(53,-22),(54,-20),(55,-22),(56,-20),(57,-15),(58,-10),(58.7,-20)]),
    ("g", [(37,60),(38,70),(39,60),(40,40),(41,20),(42,10),(43,5),(44,0),(45,-5),(46,-10),(48,-15)]),
    ("g", [(37,255),(38,245),(39,240),(40,230),(41,220),(42,210),(43,205),(43.5,200),(42,190),(40,185),(39,180),(38.5,160),(39,140),(40,120),(39,100),(38,80),(37.5,60),(38,50),(39,45),(40,40),(41,30)]),
    ("g", [(38,130),(39,120),(40.5,110),(39.5,95),(38.5,100),(38,115)]),
    ("k", [(41.5,180),(42.5,175),(43,185)]),
    ("k", [(37.5,70),(38.5,65)]),
    ("k", [(38,-15),(40,-20),(41.5,-15)]),
    ("k", [(50,-15),(52,-20),(54,-20),(56,-25)]),
]

ROW_LABELS = ["S1", "S2", "S3", "S4", "S5", "S6", "S7", "S8"]
PANELS = [(S1_D, S1_S), (S2_D, S2_S), (S3_D, S3_S), (S4_D, S4_S),
          (S5_D, S5_S), (S6_D, S6_S), (S7_D, S7_S), (S8_D, S8_S)]

X_TICKS = [[25, 30, 35, 40, 45], [34, 36, 38, 40, 42], [44, 46, 48, 50, 52, 54], [45, 50, 55],
           [50, 55, 60], [26, 28, 30, 32, 34, 36], [30, 40, 50, 60], [35, 40, 45, 50, 55]]
Y_TICKS_D = [[-400, -200, 0, 200], [-100, -50, 0, 50], [-200, -100, 0, 100], [-20, 0, 20],
             [-50, 0, 50, 100, 150], [-80, -60, -40, -20, 0, 20, 40], [-200, -100, 0, 100], [-100, 0, 100]]
Y_TICKS_S = [[-200, 0, 200, 400], [-100, 0, 100], [-400, -200, 0, 200], [-40, -20, 0],
             [-100, 0, 100], [-40, -20, 0, 20, 40, 60, 80], [-200, 0, 200], [0, 100, 200]]

# ---------------- layout geometry (pixels) ----------------
W, H = 964, 1487
ROW_TOP = [55, 236, 411, 590, 767, 945, 1125, 1305]
ROW_BOT = [183, 363, 540, 719, 897, 1076, 1254, 1433]
COL_L = [121, 596]
COL_R = [482, 956]
X_RANGES = [[(23.2, 48.7), (23.15, 48.85)], [(32.25, 43.43), (32.26, 43.5)], [(43.27, 55.68), (43.35, 55.7)],
            [(44.38, 58.04), (44.4, 58.13)], [(48.61, 62.68), (48.62, 62.58)], [(25.04, 37.71), (25.07, 37.67)],
            [(28.4, 60.44), (28.5, 60.4)], [(32.54, 58.7), (32.6, 58.7)]]
Y_RANGES = [[(-400, 375), (-360, 465)], [(-143, 97), (-153, 163)], [(-200, 105), (-505, 205)],
            [(-32, 36), (-46, 8.4)], [(-50, 157), (-100, 107)], [(-82, 45), (-46, 87)],
            [(-255, 103), (-308, 299)], [(-112, 189), (-71, 266)]]

FONT = "Liberation Sans, Arial, Helvetica, sans-serif"

fig = go.Figure()
layout = {}
idx = 0
for r in range(8):
    for c in range(2):
        idx += 1
        xa = "x" if idx == 1 else f"x{idx}"
        ya = "y" if idx == 1 else f"y{idx}"
        for col, pts in PANELS[r][c]:
            fig.add_trace(go.Scatter(
                x=[p[0] for p in pts], y=[p[1] for p in pts], mode="lines",
                line=dict(color=COLORS[col], width=1.4), xaxis=xa, yaxis=ya,
                showlegend=False, hoverinfo="skip"))
        xk = "xaxis" if idx == 1 else f"xaxis{idx}"
        yk = "yaxis" if idx == 1 else f"yaxis{idx}"
        xt = X_TICKS[r]
        yt = Y_TICKS_D[r] if c == 0 else Y_TICKS_S[r]
        common = dict(showline=True, linecolor="black", linewidth=1.5, ticks="inside",
                      ticklen=5, tickwidth=1.2, tickcolor="black", showgrid=False,
                      zeroline=False, mirror=False, automargin=False,
                      tickfont=dict(family=FONT, size=18, color="#222"))
        layout[xk] = dict(common, domain=[COL_L[c] / W, COL_R[c] / W],
                          range=list(X_RANGES[r][c]), anchor=ya,
                          tickvals=xt, ticktext=[str(v) for v in xt])
        layout[yk] = dict(common, domain=[1 - ROW_BOT[r] / H, 1 - ROW_TOP[r] / H],
                          range=list(Y_RANGES[r][c]), anchor=xa,
                          tickvals=yt, ticktext=[str(v) for v in yt])

ann = []
ROW_LABEL_Y = [98, 267, 436, 621, 791, 975, 1127, 1331]
for lab, yy in zip(ROW_LABELS, ROW_LABEL_Y):
    ann.append(dict(text=lab, x=28 / W, y=1 - yy / H, xref="paper", yref="paper",
                    showarrow=False, xanchor="center", yanchor="middle",
                    font=dict(family=FONT, size=22, color="#222")))
for txt, xx in (("δTA<sub>d</sub> (μm)", 300), ("δTA<sub>s</sub> (μm)", 775)):
    ann.append(dict(text=txt, x=xx / W, y=1 - 22 / H, xref="paper", yref="paper",
                    showarrow=False, xanchor="center", yanchor="middle",
                    font=dict(family=FONT, size=20, color="#222")))
for xx in (298, 773):
    ann.append(dict(text="CoG (mm)", x=xx / W, y=1 - 1475 / H, xref="paper", yref="paper",
                    showarrow=False, xanchor="center", yanchor="middle",
                    font=dict(family=FONT, size=20, color="#222")))

fig.update_layout(width=W, height=H, autosize=False, margin=dict(l=0, r=0, t=0, b=0, autoexpand=False),
                  paper_bgcolor="white", plot_bgcolor="white", annotations=ann, **layout)
fig.write_html("out.html", config={"displayModeBar": False},
               post_script="document.body.style.margin='0';document.body.style.overflow='hidden';")
